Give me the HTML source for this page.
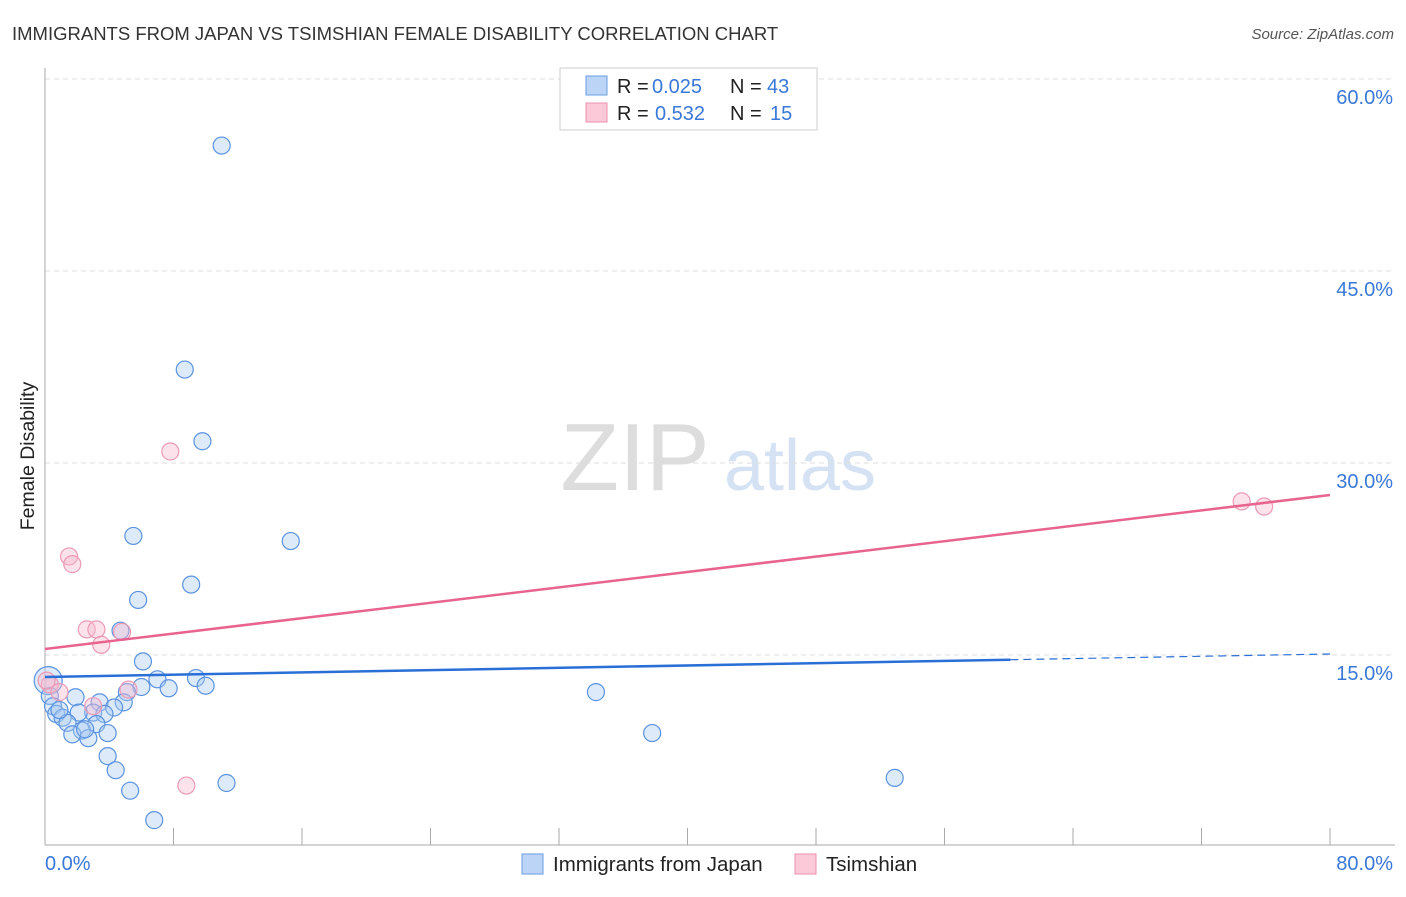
<!DOCTYPE html>
<html><head><meta charset="utf-8"><style>
body{margin:0;background:#fff;font-family:"Liberation Sans",sans-serif}
svg text{font-family:"Liberation Sans",sans-serif}
</style></head><body>
<svg id="c" width="1406" height="892" xmlns="http://www.w3.org/2000/svg">
<text x="12" y="40" font-size="18.5" fill="#333">IMMIGRANTS FROM JAPAN VS TSIMSHIAN FEMALE DISABILITY CORRELATION CHART</text>
<text x="1394" y="39" font-size="15" fill="#555" font-style="italic" text-anchor="end">Source: ZipAtlas.com</text>
<text x="34" y="456" font-size="19.5" fill="#222" text-anchor="middle" transform="rotate(-90 34 456)">Female Disability</text>
<g><text x="635" y="490" font-size="96" fill="#ddd" font-family="Liberation Serif" text-anchor="middle">ZIP</text><text x="800" y="490" font-size="72" fill="#d4e2f4" text-anchor="middle">atlas</text></g>
<g id="grid"></g><g id="axes"></g><g id="marks"></g>
<g>
<rect x="560" y="68" width="257" height="62" fill="#fff" stroke="#ccc"/>
<rect x="586" y="76" width="21" height="19" fill="#bcd4f5" stroke="#6a9be0"/>
<rect x="586" y="103" width="21" height="19" fill="#fbc9d8" stroke="#ec8fae"/>
<text x="617" y="93" font-size="20" fill="#222">R =</text>
<text x="652" y="93" font-size="20" fill="#3a78d8">0.025</text>
<text x="730" y="93" font-size="20" fill="#222">N =</text>
<text x="767" y="93" font-size="20" fill="#3a78d8">43</text>
<text x="617" y="120" font-size="20" fill="#222">R =</text>
<text x="655" y="120" font-size="20" fill="#3a78d8">0.532</text>
<text x="730" y="120" font-size="20" fill="#222">N =</text>
<text x="770" y="120" font-size="20" fill="#3a78d8">15</text>
</g>
<g>
<rect x="522" y="854" width="21" height="20" fill="#bcd4f5" stroke="#6a9be0"/>
<text x="553" y="871" font-size="20.5" fill="#222">Immigrants from Japan</text>
<rect x="795" y="854" width="21" height="20" fill="#fbc9d8" stroke="#ec8fae"/>
<text x="826" y="871" font-size="20.5" fill="#222">Tsimshian</text>
</g>
</svg>
<script>
const yTicks=[15,30,45,60];
const yTickLabels=["15.0%","30.0%","45.0%","60.0%"];
const xTicks=[0,8,16,24,32,40,48,56,64,72,80];
const japanX=[11.0,8.7,9.8,5.5,15.3,9.1,5.8,4.7,6.1,7.0,9.4,6.0,7.7,10.0,5.1,34.3,0.2,0.3,0.5,1.9,3.4,4.9,4.3,3.0,2.1,0.7,1.1,1.4,3.7,3.2,2.3,1.7,2.7,3.9,37.8,3.9,4.4,5.3,11.3,52.9,6.8,0.9,2.5];
const japanY=[54.8,37.3,31.7,24.3,23.9,20.5,19.3,16.9,14.5,13.1,13.2,12.5,12.4,12.6,12.1,12.1,13.0,11.8,11.0,11.7,11.3,11.3,10.9,10.5,10.5,10.4,10.1,9.7,10.4,9.6,9.1,8.8,8.5,8.9,8.9,7.1,6.0,4.4,5.0,5.4,2.1,10.7,9.2];
const tsimX=[7.8,1.5,1.7,2.6,3.2,4.8,3.5,74.5,75.9,8.8,0.3,0.9,5.2,3.0,0.1];
const tsimY=[30.9,22.7,22.1,17.0,17.0,16.8,15.8,27.0,26.6,4.8,12.7,12.1,12.3,11.0,13.0];
const japanTrend=[13.28,15.08];
const tsimTrend=[15.47,27.5];
const japanSolidEnd=60.1;
const X=v=>45+v/80*1285, Y=v=>847-v/15*192;
const NS="http://www.w3.org/2000/svg";
function mk(p,t,a){const e=document.createElementNS(NS,t);for(const k in a)e.setAttribute(k,a[k]);document.getElementById(p).appendChild(e);return e;}
yTicks.forEach((t,i)=>{
 const g=mk('grid','line',{x1:45,x2:1395,y1:Y(t),y2:Y(t),stroke:'#ddd','stroke-dasharray':'5,4'});
 
 
 const l=mk('grid','text',{x:1393,y:Y(t)+25,'font-size':20,fill:'#3a78d8','text-anchor':'end'});
 l.textContent=yTickLabels[i];
 
 
});
const ax=mk('axes','line',{x1:45,x2:45,y1:68,y2:845,stroke:'#aaa'});


const bx=mk('axes','line',{x1:45,x2:1395,y1:845,y2:845,stroke:'#aaa'});


xTicks.forEach(t=>{const e=mk('axes','line',{x1:X(t),x2:X(t),y1:828,y2:845,stroke:'#aaa'});
 
 });
const xl0=mk('axes','text',{x:45,y:870,'font-size':20,fill:'#3a78d8'});xl0.textContent='0.0%';


const xl1=mk('axes','text',{x:1393,y:870,'font-size':20,fill:'#3a78d8','text-anchor':'end'});xl1.textContent='80.0%';


japanX.forEach((x,i)=>{const c=mk('marks','circle',{cx:X(x),cy:Y(japanY[i]),r:i==16?14:8.5,fill:'rgba(170,202,242,0.4)',stroke:'#5b93e0','stroke-width':1.2});
 
 });
tsimX.forEach((x,i)=>{const c=mk('marks','circle',{cx:X(x),cy:Y(tsimY[i]),r:8.5,fill:'rgba(248,186,204,0.4)',stroke:'#ec9ab5','stroke-width':1.2});
 
 });
const jy=x=>japanTrend[0]+(japanTrend[1]-japanTrend[0])*x/80;
const t1=mk('marks','line',{x1:X(0),y1:Y(jy(0)),x2:X(japanSolidEnd),y2:Y(jy(japanSolidEnd)),stroke:'#2a6fd6','stroke-width':2.5});


const t2=mk('marks','line',{x1:X(japanSolidEnd),y1:Y(jy(japanSolidEnd)),x2:X(80),y2:Y(jy(80)),stroke:'#2a6fd6','stroke-width':1.2,'stroke-dasharray':'8,5'});


const t3=mk('marks','line',{x1:X(0),y1:Y(tsimTrend[0]),x2:X(80),y2:Y(tsimTrend[1]),stroke:'#e8648e','stroke-width':2.5});


</script>
</body></html>
